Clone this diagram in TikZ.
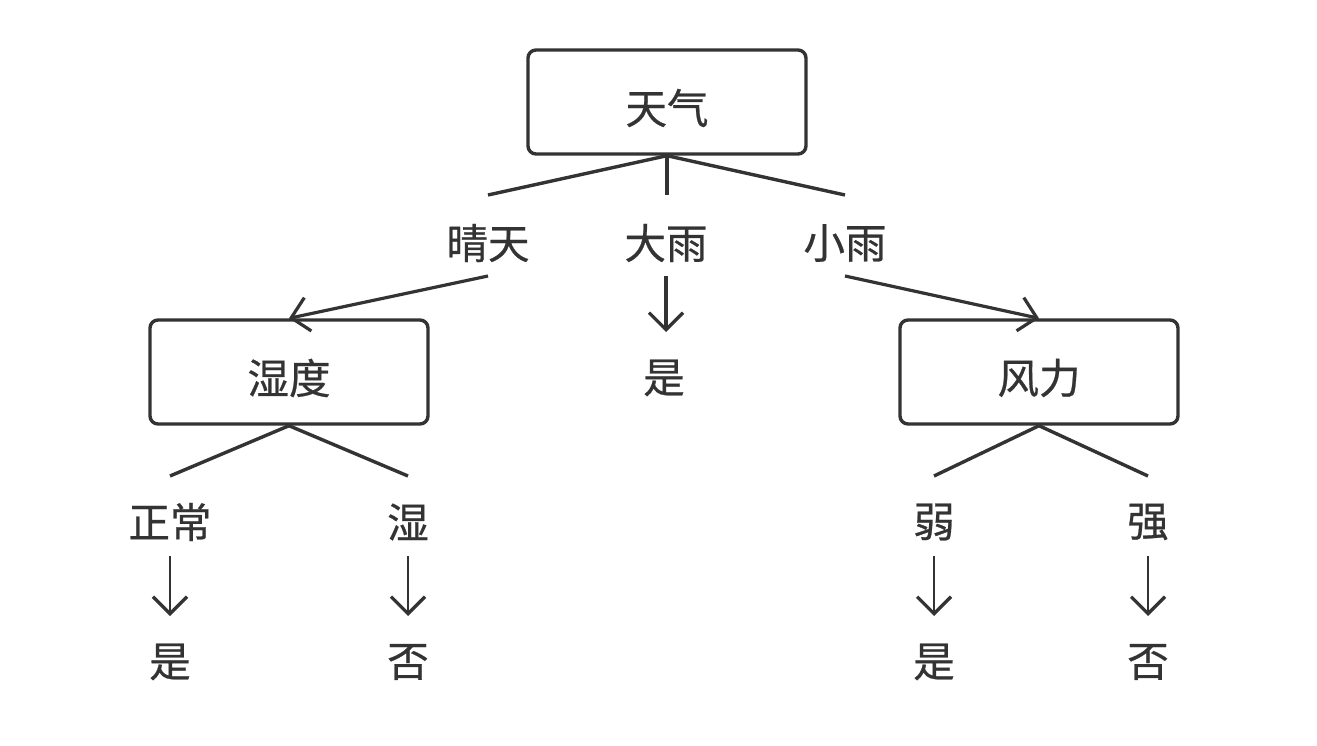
\documentclass[tikz,border=0pt]{standalone}
\usepackage{fontspec}
\newfontfamily\cjk[FakeBold=0.6]{Noto Sans CJK SC}
\usetikzlibrary{arrows.meta}
\definecolor{ink}{HTML}{333333}
\begin{document}
\begin{tikzpicture}[x=1pt,y=-1pt,
  box/.style={draw=ink,line width=3.4pt,rounded corners=8pt,minimum width=278pt,minimum height=104pt,inner sep=0pt},
  lbl/.style={text=ink,font=\cjk\fontsize{41.5}{43}\selectfont,inner sep=0pt},
  edge/.style={draw=ink,line width=3.4pt},
  arr/.style={draw=ink,line width=3.2pt,-{Straight Barb[length=17pt,width=34pt,line width=3.2pt]}}]
\useasboundingbox (0,0) rectangle (1317,746);
\fill[white] (0,0) rectangle (1317,746);
% boxes
\node[box] (w) at (667,102) {};
\node[box] (h) at (289,372) {};
\node[box] (f) at (1039,372) {};
\node[lbl] (wt) at (667,108) {天气};
\node[lbl] (ht) at (289,378) {湿度};
\node[lbl] (ft) at (1039,378) {风力};
% branch coordinates
\coordinate (w1) at (488,195);
\coordinate (w2) at (667,195);
\coordinate (w3) at (845,195);
\draw[edge] (w.south) -- (w1);
\draw[edge] (w.south) -- (w2);
\draw[edge] (w.south) -- (w3);
\node[lbl] (qt) at (488,243) {晴天};
\node[lbl] (dy) at (666,243) {大雨};
\node[lbl] (xy) at (845,243) {小雨};
\coordinate (qta) at (488,276);
\coordinate (dya) at (666,276);
\coordinate (xya) at (845,276);
\coordinate (dyb) at (666,332);
\draw[arr] (qta) -- (h.north);
\draw[arr] (dya) -- (dyb);
\draw[arr] (xya) -- (f.north);
\node[lbl] (s0) at (664,378) {是};
% humidity branches
\coordinate (h1) at (170,476);
\coordinate (h2) at (408,476);
\draw[edge] (h.south) -- (h1);
\draw[edge] (h.south) -- (h2);
\node[lbl] (zc) at (170,522) {正常};
\node[lbl] (sh) at (408,522) {湿};
% wind branches
\coordinate (f1) at (934,476);
\coordinate (f2) at (1148,476);
\draw[edge] (f.south) -- (f1);
\draw[edge] (f.south) -- (f2);
\node[lbl] (ru) at (934,522) {弱};
\node[lbl] (qi) at (1148,522) {强};
% leaf arrows
\foreach \n/\x in {a/170,b/408,c/934,d/1148}{
  \coordinate (\n1) at (\x,556);
  \coordinate (\n2) at (\x,616);
  \draw[arr,line width=2.8pt] (\n1) -- (\n2);
}
\node[lbl] (l1) at (170,662) {是};
\node[lbl] (l2) at (408,662) {否};
\node[lbl] (l3) at (934,662) {是};
\node[lbl] (l4) at (1148,662) {否};
\end{tikzpicture}
\end{document}
